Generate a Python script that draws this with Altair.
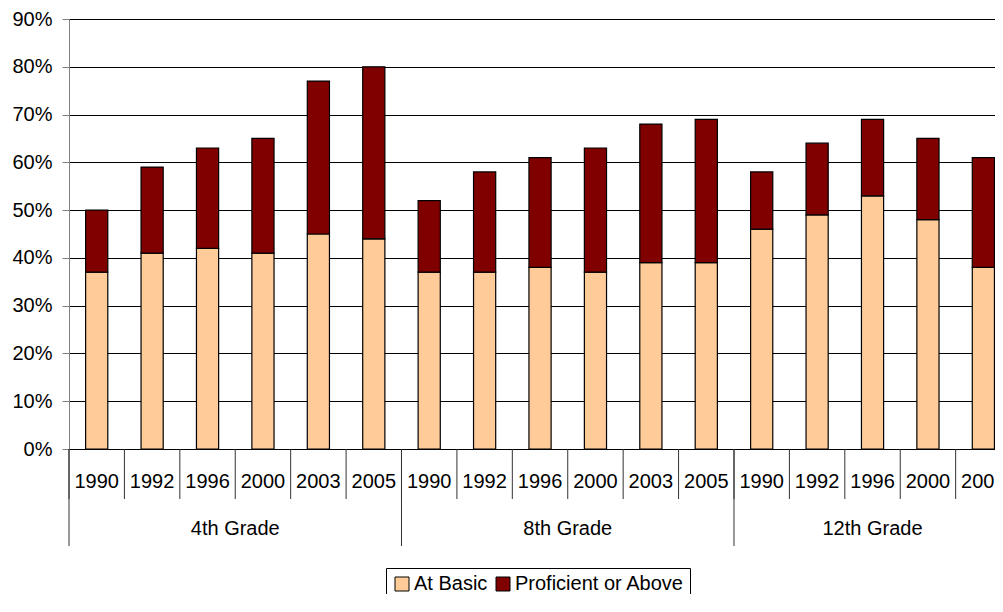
import altair as alt
import pandas as pd

# ---- data ----
grades = ["4th Grade", "8th Grade", "12th Grade"]
years_by_grade = [
    ["1990", "1992", "1996", "2000", "2003", "2005"],
    ["1990", "1992", "1996", "2000", "2003", "2005"],
    ["1990", "1992", "1996", "2000", "2005"],
]
at_basic = [
    [37, 41, 42, 41, 45, 44],
    [37, 37, 38, 37, 39, 39],
    [46, 49, 53, 48, 38],
]
proficient = [
    [13, 18, 21, 24, 32, 36],
    [15, 21, 23, 26, 29, 30],
    [12, 15, 16, 17, 23],
]
series = ["At Basic", "Proficient or Above"]
colors = ["#FFCC99", "#800000"]
y_ticks = [0.0, 0.1, 0.2, 0.3, 0.4, 0.5, 0.6, 0.7, 0.8, 0.9]

# ---- tables ----
bar_rows, cat_rows, grade_rows = [], [], []
idx = 0
for g, yrs, b, p in zip(grades, years_by_grade, at_basic, proficient):
    start = idx
    for yr, vb, vp in zip(yrs, b, p):
        cat_rows.append({"idx": idx, "year": yr})
        bar_rows.append({"idx": idx, "series": series[0], "value": vb / 100, "ord": 0})
        bar_rows.append({"idx": idx, "series": series[1], "value": vp / 100, "ord": 1})
        idx += 1
    grade_rows.append({"grade": g, "start": start, "end": idx})

bars_df = pd.DataFrame(bar_rows)
cats_df = pd.DataFrame(cat_rows)
grades_df = pd.DataFrame(grade_rows)

FONT = "Liberation Sans"
# the reference cuts the plot off at the right edge of the window
xscale = alt.Scale(domain=[0, 16.71], nice=False, zero=False)

bars = (
    alt.Chart(bars_df)
    .transform_stack(
        stack="value", groupby=["idx"], as_=["v0", "v1"],
        sort=[alt.SortField("ord", order="ascending")],
    )
    .transform_calculate(x0="datum.idx + 0.3", x1="datum.idx + 0.7")
    .mark_bar(stroke="black", strokeWidth=1.2)
    .encode(
        x=alt.X("x0:Q", scale=xscale, axis=None),
        x2="x1:Q",
        y=alt.Y(
            "v0:Q",
            scale=alt.Scale(domain=[0, 0.9], nice=False),
            axis=alt.Axis(
                values=y_ticks,
                format=".0%",
                title=None,
                tickSize=7,
                labelPadding=10,
                labelFontSize=20,
                labelFont=FONT,
                labelColor="black",
                grid=True,
                gridColor="black",
                gridWidth=1,
                domainColor="#808080",
                tickColor="#808080",
            ),
        ),
        y2="v1:Q",
        color=alt.Color(
            "series:N",
            scale=alt.Scale(domain=series, range=colors),
            legend=alt.Legend(
                title=None,
                orient="none",
                legendX=317,
                legendY=549,
                direction="horizontal",
                strokeColor="black",
                fillColor="white",
                padding=6,
                labelFontSize=20,
                labelFont=FONT,
                labelColor="black",
                labelLimit=400,
                symbolType="square",
                symbolSize=196,
                symbolStrokeColor="black",
                symbolStrokeWidth=1,
                labelOffset=2,
                columnPadding=5,
                cornerRadius=0,
            ),
        ),
    )
)

year_sep = (
    alt.Chart(cats_df)
    .mark_rule(color="#333333", strokeWidth=1)
    .encode(x=alt.X("idx:Q", axis=None), y=alt.value(430), y2=alt.value(480))
)

grade_sep = (
    alt.Chart(grades_df)
    .mark_rule(color="#333333", strokeWidth=1)
    .encode(x=alt.X("start:Q", axis=None), y=alt.value(430), y2=alt.value(527))
)

year_text = (
    alt.Chart(cats_df)
    .transform_calculate(xc="datum.idx + 0.5")
    .mark_text(fontSize=20, font=FONT, color="black", baseline="middle", align="center")
    .encode(x=alt.X("xc:Q", axis=None), y=alt.value(463), text="year:N")
)

grade_text = (
    alt.Chart(grades_df)
    .transform_calculate(xc="(datum.start + datum.end) / 2")
    .mark_text(fontSize=20, font=FONT, color="black", baseline="middle", align="center")
    .encode(x=alt.X("xc:Q", axis=None), y=alt.value(510), text="grade:N")
)

chart = (
    alt.layer(bars, year_sep, grade_sep, year_text, grade_text)
    .properties(
        width=926,
        height=430,
        autosize=alt.AutoSizeParams(type="none"),
        padding={"left": 61, "top": 11, "right": 0, "bottom": 145},
    )
    .configure_view(stroke=None)
    .configure(background="white")
)

chart.save("out.html", embed_options={"renderer": "svg", "actions": False})
